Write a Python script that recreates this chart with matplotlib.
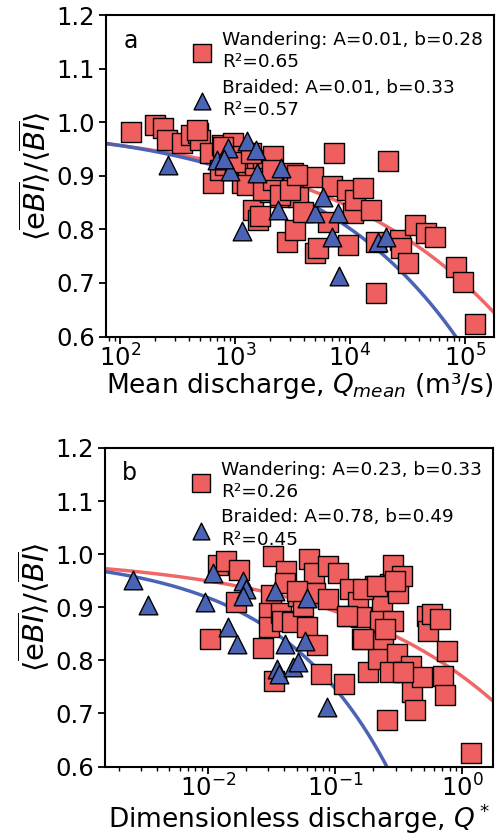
import numpy as np
import matplotlib
matplotlib.use("Agg")
from matplotlib import pyplot as plt

# panel a: mean discharge (m3/s) vs normalised eBI
wand_q_a = [125, 201, 238, 255, 344, 411, 480, 496, 464, 607, 649, 766, 741, 968, 1071,
            1033, 1142, 1306, 1444, 1597, 1542, 1762, 1950, 2153, 2013, 2301, 2459, 2810,
            3212, 3324, 3554, 3929, 4797, 4963, 5309, 6487, 6935, 7310, 9356, 9676, 10700,
            11050, 13060, 15420, 16820, 17050, 21540, 27210, 28130, 32150, 36750, 46410,
            54830, 84700, 96800, 122200, 794, 820, 1000, 1480, 1270, 1740, 1380, 2140, 2450,
            3020, 1660, 2090, 3470]
wand_e_a = [0.982, 0.995, 0.989, 0.967, 0.961, 0.976, 0.979, 0.967, 0.985, 0.943, 0.886, 0.957,
            0.911, 0.961, 0.936, 0.917, 0.886, 0.905, 0.836, 0.818, 0.930, 0.917, 0.920, 0.936,
            0.870, 0.880, 0.861, 0.777, 0.905, 0.799, 0.861, 0.833, 0.898, 0.755, 0.765, 0.814,
            0.880, 0.942, 0.874, 0.771, 0.830, 0.855, 0.877, 0.836, 0.682, 0.777, 0.928, 0.780,
            0.765, 0.738, 0.808, 0.793, 0.785, 0.730, 0.702, 0.624, 0.954, 0.920, 0.926, 0.896,
            0.883, 0.874, 0.943, 0.892, 0.864, 0.874, 0.824, 0.911, 0.901]
braid_q_a = [259, 702, 875, 905, 1143, 1280, 1523, 1542, 2383, 2515, 4963, 5781, 6935, 7925,
             8080, 17630, 20830, 795]
braid_e_a = [0.920, 0.929, 0.951, 0.908, 0.796, 0.964, 0.948, 0.905, 0.836, 0.914, 0.830, 0.861,
             0.786, 0.830, 0.712, 0.777, 0.786, 0.931]

# panel b: dimensionless discharge Q* vs normalised eBI
wand_q_b = [0.0105, 0.0121, 0.0139, 0.0177, 0.0166, 0.0273, 0.0327, 0.0317, 0.0304, 0.0304,
            0.0331, 0.038, 0.0387, 0.0416, 0.0404, 0.0456, 0.0514, 0.0563, 0.0605, 0.0628,
            0.0684, 0.0697, 0.0718, 0.0771, 0.0887, 0.0887, 0.106, 0.118, 0.127, 0.131, 0.153,
            0.159, 0.162, 0.183, 0.206, 0.233, 0.226, 0.240, 0.219, 0.255, 0.271, 0.288, 0.306,
            0.315, 0.335, 0.356, 0.394, 0.402, 0.427, 0.481, 0.527, 0.543, 0.577, 0.671, 0.705,
            0.735, 0.757, 1.17, 0.167, 0.213, 0.288, 0.271, 0.345, 0.167, 0.124, 0.0499, 0.248,
            0.296]
wand_e_b = [0.840, 0.980, 0.988, 0.971, 0.909, 0.824, 0.996, 0.924, 0.890, 0.862, 0.762, 0.890,
            0.874, 0.968, 0.946, 0.872, 0.921, 0.902, 0.862, 0.990, 0.965, 0.927, 0.828, 0.775,
            0.977, 0.916, 0.965, 0.756, 0.884, 0.934, 0.909, 0.881, 0.840, 0.778, 0.940, 0.902,
            0.874, 0.834, 0.803, 0.687, 0.943, 0.980, 0.812, 0.927, 0.959, 0.778, 0.790, 0.740,
            0.706, 0.768, 0.884, 0.856, 0.887, 0.878, 0.771, 0.734, 0.818, 0.625, 0.934, 0.940,
            0.874, 0.778, 0.778, 0.840, 0.884, 0.930, 0.859, 0.949]
braid_q_b = [0.00258, 0.00339, 0.00947, 0.0109, 0.0145, 0.0170, 0.0190, 0.0201, 0.0190, 0.0337,
             0.0348, 0.0365, 0.0404, 0.0470, 0.0514, 0.058, 0.0605, 0.0859]
braid_e_b = [0.952, 0.904, 0.909, 0.965, 0.862, 0.831, 0.949, 0.934, 0.921, 0.930, 0.784, 0.775,
             0.831, 0.787, 0.796, 0.837, 0.918, 0.712]

# fits eBI = 1 - A*Q^b  (wandering, braided)
fit_A_a = [0.012, 0.0095]
fit_b_a = [0.28, 0.33]
fit_A_b = [0.23, 0.78]
fit_b_b = [0.33, 0.49]
labels_a = ["Wandering: A=0.01, b=0.28\nR²=0.65", "Braided: A=0.01, b=0.33\nR²=0.57"]
labels_b = ["Wandering: A=0.23, b=0.33\nR²=0.26", "Braided: A=0.78, b=0.49\nR²=0.45"]

red = "#EF5F5F"
blue = "#4A63B5"
fs = 17.5

fig = plt.figure(figsize=(4.99, 8.35), dpi=100)
ax1 = fig.add_axes([0.212, 0.597, 0.778, 0.385])
ax2 = fig.add_axes([0.210, 0.082, 0.778, 0.3815])

ylab = r'$\langle\overline{\mathrm{e}BI}\rangle/\langle\overline{BI}\rangle$'


def panel(ax, wq, we, bq, be, A, b, labels, xlim, letter, xlabel, legy):
    xx = np.logspace(np.log10(xlim[0]), np.log10(xlim[1]), 300)
    ax.plot(xx, 1 - A[0] * xx ** b[0], color=red, lw=2.5, alpha=0.95, zorder=1)
    ax.plot(xx, 1 - A[1] * xx ** b[1], color=blue, lw=2.5, zorder=2)
    ax.scatter(wq, we, marker='s', s=190, color=red, edgecolor='black', linewidth=1,
               zorder=3, label=labels[0])
    ax.scatter(bq, be, marker='^', s=180, color=blue, edgecolor='black', linewidth=1,
               zorder=4, label=labels[1])
    ax.set_xscale('log')
    ax.set_xlim(xlim)
    ax.set_ylim(0.6, 1.2)
    ax.set_yticks(np.arange(0.6, 1.21, 0.1))
    ax.yaxis.set_major_formatter(matplotlib.ticker.FormatStrFormatter('%.1f'))
    ax.tick_params(labelsize=fs, width=1.3, length=5, pad=3)
    ax.tick_params(axis='x', pad=0.5)
    ax.tick_params(which='minor', width=1, length=3)
    for sp in ax.spines.values():
        sp.set_linewidth(1.5)
    ax.set_ylabel(ylab, fontsize=21, labelpad=3)
    ax.set_xlabel(xlabel, fontsize=19, labelpad=0)
    ax.text(0.045, 0.92, letter, transform=ax.transAxes, fontsize=17, va='center')
    leg = ax.legend(loc='upper right', bbox_to_anchor=(1.005, legy), frameon=False,
                    fontsize=13.3, handletextpad=0.1, labelspacing=0.4, borderaxespad=0.3,
                    markerscale=0.9)
    for t in leg.get_texts():
        t.set_linespacing(1.3)


panel(ax1, wand_q_a, wand_e_a, braid_q_a, braid_e_a, fit_A_a, fit_b_a, labels_a,
      (75, 1.8e5), 'a', r'Mean discharge, $Q_{mean}$ (m³/s)', 0.99)
panel(ax2, wand_q_b, wand_e_b, braid_q_b, braid_e_b, fit_A_b, fit_b_b, labels_b,
      (1.55e-3, 1.75), 'b', r'Dimensionless discharge, $Q^*$', 1.0)

plt.savefig('out.png', dpi=100)
